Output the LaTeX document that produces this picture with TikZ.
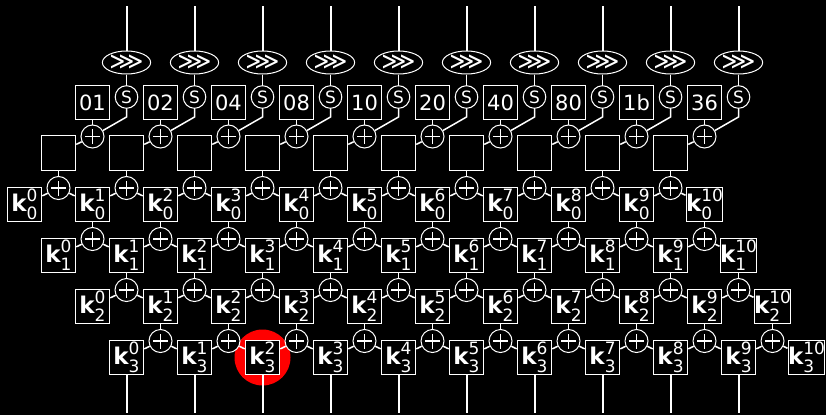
\documentclass[tikz,border=0pt]{standalone}
\usepackage{fontspec}
\setmainfont{DejaVu Sans}
\usetikzlibrary{shapes.geometric}
\newcommand{\klab}[2]{{\fontsize{23}{23}\selectfont\bfseries k}{\fontsize{17}{17}\selectfont\rlap{\raisebox{9.5pt}{#1}}\rlap{\raisebox{-8.5pt}{#2}}\phantom{#1}}}
\begin{document}
\begin{tikzpicture}[x=1pt,y=-1pt,
  box/.style={draw=white, line width=1pt, fill=black, minimum size=34.5pt, inner sep=0pt, text=white},
  rcbox/.style={box, font=\fontsize{21}{21}\selectfont},
  xorc/.style={circle, draw=white, line width=1pt, fill=black, minimum size=23pt, inner sep=0pt,
    path picture={\draw[white, line width=1.7pt] ([xshift=-7.5pt]path picture bounding box.center) -- ([xshift=7.5pt]path picture bounding box.center);
                  \draw[white, line width=1.7pt] ([yshift=-7.5pt]path picture bounding box.center) -- ([yshift=7.5pt]path picture bounding box.center);}},
  sbox/.style={circle, draw=white, line width=1pt, fill=black, text=white, minimum size=22.6pt, inner sep=0pt, font=\fontsize{17}{17}\selectfont},
  rotbox/.style={ellipse, draw=white, line width=1pt, fill=black, text=white, minimum width=46pt, minimum height=23pt, inner sep=0pt, font=\fontsize{24}{24}\selectfont},
  conn/.style={white, line width=1.5pt},
  longline/.style={white, line width=2pt}]
\fill[black] (0,0) rectangle (826,415);
\useasboundingbox (0,0) rectangle (826,415);
% highlight
\node[circle, fill=red, minimum size=56pt, inner sep=0pt] (hl) at (262.5,357.5) {};
% key boxes
\foreach \r in {0,...,3}{
  \foreach \j in {0,...,10}{
    \pgfmathsetmacro\kx{24.5+68*\j+34*\r}
    \pgfmathsetmacro\ky{204.5+51*\r}
    \node[box] (k\r-\j) at (\kx,\ky) {\klab{\j}{\r}};
  }
  \foreach \j in {1,...,10}{
    \pgfmathsetmacro\xx{24.5+68*\j+34*\r-34}
    \pgfmathsetmacro\xy{188+51*\r}
    \node[xorc] (x\r-\j) at (\xx,\xy) {};
  }
}
% top part
\foreach \j/\rc in {1/01,2/02,3/04,4/08,5/10,6/20,7/40,8/80,9/1b,10/36}{
  \pgfmathsetmacro\sx{58.5+68*\j}
  \coordinate (t\j) at (\sx,6);
  \node[rotbox] (e\j) at (\sx,62.5) {⋙};
  \node[sbox] (s\j) at (\sx,97) {S};
  \coordinate (bend\j) at (\sx,117);
  \node[rcbox] (rc\j) at (\sx-34,102.5) {\rc};
  \node[xorc] (px\j) at (\sx-34,136.5) {};
  \node[box] (eb\j) at (\sx-68,153) {};
}
% connectors
\foreach \j in {1,...,10}{
  \pgfmathtruncatemacro\jm{\j-1}
  \draw[longline] (t\j) -- (e\j);
  \draw[conn] (e\j) -- (s\j);
  \draw[conn] (s\j) -- (bend\j) -- (px\j);
  \draw[conn] (rc\j) -- (px\j);
  \draw[conn] (px\j) -- (eb\j);
  \draw[conn] (eb\j) -- (x0-\j);
  \foreach \r in {0,...,3}{
    \draw[conn] (k\r-\jm) -- (x\r-\j) -- (k\r-\j);
  }
  \foreach \r in {1,...,3}{
    \pgfmathtruncatemacro\rm{\r-1}
    \draw[conn] (k\rm-\j) -- (x\r-\j);
  }
}
\foreach \j in {0,...,9}{
  \pgfmathsetmacro\bx{126.5+68*\j}
  \coordinate (bot\j) at (\bx,413);
  \draw[longline] (k3-\j) -- (bot\j);
}
\end{tikzpicture}
\end{document}
